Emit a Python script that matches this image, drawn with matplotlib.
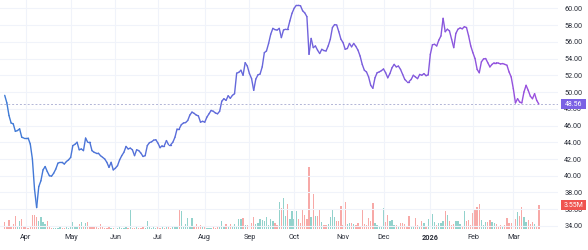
import numpy as np
import matplotlib
matplotlib.use("Agg")
import matplotlib.pyplot as plt
from matplotlib.collections import LineCollection
from matplotlib.colors import LinearSegmentedColormap
from matplotlib.patches import Rectangle
from matplotlib.transforms import blended_transform_factory

plt.rcParams["font.family"] = ["Roboto", "DejaVu Sans"]

# ---- data (one value per trading day, 2025-03-18 .. 2026-03-18) ----
close = [
    49.6, 48.7, 47.2, 46.3, 46.2, 45.3, 45.4, 45.6, 44.6, 44.5,
    44.5, 44.5, 43.8, 42.0, 38.4, 36.2, 38.7, 39.4, 40.7, 41.1,
    40.5, 40.0, 39.95, 40.3, 40.8, 41.5, 41.6, 41.6, 41.4, 41.7,
    41.9, 42.2, 43.6, 43.75, 44.0, 43.1, 43.2, 43.0, 44.5, 44.0,
    44.0, 43.0, 42.8, 42.7, 42.7, 42.4, 42.2, 42.0, 41.6, 41.0,
    41.6, 40.7, 40.9, 41.2, 41.9, 42.4, 42.8, 43.5, 43.2, 43.3,
    43.1, 42.4, 43.1, 43.0, 42.7, 42.3, 42.4, 43.6, 43.95, 44.05,
    44.25, 44.3, 43.9, 43.35, 43.6, 43.6, 44.2, 43.7, 43.7, 44.0,
    44.6, 45.6, 45.6, 46.1, 46.3, 46.35, 46.6, 47.25, 47.6, 47.45,
    47.25, 47.15, 46.4, 46.5, 46.4, 47.0, 47.4, 47.8, 47.7, 47.5,
    47.4, 47.7, 48.9, 49.2, 49.0, 49.55, 49.25, 49.6, 49.8, 52.25,
    52.35, 52.6, 52.0, 53.5, 53.1, 52.2, 51.6, 50.2, 51.55, 52.05,
    52.15, 53.0, 54.7, 54.9, 55.8, 56.9, 57.6, 57.45, 57.4, 57.6,
    56.5, 57.4, 57.5, 57.5, 58.5, 59.4, 60.0, 60.35, 60.35, 60.3,
    59.7, 59.45, 59.0, 54.5, 56.4, 55.3, 55.5, 55.0, 54.6, 55.1,
    54.95, 54.9, 55.5, 56.3, 57.7, 58.05, 58.0, 57.2, 56.3, 55.9,
    55.1, 55.2, 55.8, 55.4, 55.8, 55.45, 55.0, 54.3, 53.3, 52.6,
    52.4, 51.8, 50.8, 50.45, 51.7, 52.3, 52.4, 52.55, 52.75, 52.3,
    51.7, 52.2, 52.9, 53.3, 53.0, 53.1, 52.7, 52.1, 51.5, 51.25,
    51.25, 51.5, 52.0, 51.8, 51.6, 52.1, 52.0, 52.2, 51.95, 52.05,
    54.5, 55.65, 55.7, 55.5, 56.2, 56.7, 58.8, 57.2, 57.5, 57.3,
    56.3, 55.3, 57.0, 57.5, 57.65, 57.55, 57.8, 57.7, 56.7, 55.5,
    54.7, 54.0, 52.7, 52.3, 53.6, 53.95, 54.0, 53.5, 53.0, 53.3,
    53.5, 53.5, 53.45, 53.35, 53.4, 53.3, 53.2, 52.4, 51.8, 50.4,
    48.7, 49.2, 48.8, 48.7, 50.0, 50.8, 50.2, 49.5, 49.2, 49.8,
    49.0, 48.56,
]

volume_m = [
    0.99, 0.44, 1.38, 0.49, 0.74, 1.92, 0.49, 1.23, 1.48, 0.34,
    0.25, 0.22, 0.34, 2.07, 2.07, 1.73, 1.23, 1.73, 0.99, 0.74,
    1.23, 0.25, 0.22, 0.22, 0.22, 0.22, 0.30, 0.22, 0.22, 0.30,
    0.22, 0.30, 0.99, 0.30, 0.49, 0.74, 0.99, 0.44, 0.84, 1.08,
    0.49, 0.34, 0.30, 0.30, 0.22, 0.74, 0.30, 0.22, 0.22, 0.30,
    0.22, 0.22, 0.30, 0.22, 0.30, 0.22, 0.22, 0.30, 0.22, 2.96,
    0.22, 0.22, 0.30, 0.22, 0.22, 0.30, 0.22, 1.18, 0.44, 0.22,
    0.30, 0.22, 0.30, 0.22, 0.34, 0.22, 0.30, 0.34, 0.22, 0.30,
    0.30, 0.30, 2.81, 2.66, 0.30, 0.74, 1.58, 0.30, 1.58, 0.30,
    0.74, 0.30, 0.59, 0.30, 0.30, 0.22, 0.22, 0.22, 0.30, 0.22,
    0.30, 0.30, 1.18, 0.30, 0.74, 0.30, 0.74, 0.44, 0.74, 0.44,
    1.48, 1.48, 1.63, 0.59, 0.59, 2.66, 0.89, 1.78, 0.74, 0.89,
    1.48, 1.33, 1.18, 1.78, 0.59, 1.48, 1.18, 0.89, 0.59, 3.99,
    3.11, 4.59, 1.92, 3.70, 1.48, 2.66, 1.48, 2.66, 1.48, 0.89,
    2.96, 2.07, 1.48, 9.17, 1.78, 5.18, 1.92, 1.92, 2.81, 1.04,
    0.59, 0.59, 0.74, 1.78, 2.96, 1.78, 1.18, 1.18, 3.40, 0.59,
    3.99, 0.74, 0.89, 0.89, 0.74, 0.59, 0.89, 0.44, 2.96, 0.74,
    0.59, 1.63, 1.18, 3.85, 0.89, 0.59, 0.30, 0.44, 3.11, 1.04,
    2.07, 1.18, 1.33, 0.59, 0.59, 0.44, 0.89, 0.89, 0.74, 0.44,
    1.92, 0.30, 0.44, 1.63, 0.59, 0.44, 1.18, 0.89, 0.44, 1.48,
    2.96, 2.22, 1.04, 0.59, 0.89, 0.89, 1.18, 2.66, 2.07, 1.18,
    0.59, 0.74, 1.18, 1.18, 0.74, 0.44, 2.66, 1.18, 1.33, 0.59,
    2.37, 2.96, 3.25, 3.70, 1.33, 0.59, 1.04, 1.04, 1.33, 1.04,
    0.89, 0.74, 0.44, 0.59, 0.44, 0.59, 1.63, 0.89, 0.89, 0.89,
    1.48, 2.51, 1.92, 3.25, 1.78, 1.04, 1.33, 0.74, 1.04, 0.74,
    0.44, 3.55,
]

month_labels = ["Apr", "May", "Jun", "Jul", "Aug", "Sep", "Oct", "Nov",
                "Dec", "2026", "Feb", "Mar"]
month_first_bar = [10, 31, 52, 72, 94, 115, 136, 159, 178, 200, 220, 239]
price_ticks = [34, 36, 38, 40, 42, 44, 46, 48, 50, 52, 54, 56, 58, 60]
last_price_label = "48.56"
last_volume_label = "3.55M"

# ---- figure ----
W, H = 588, 250
fig = plt.figure(figsize=(W / 100, H / 100), dpi=100)
fig.patch.set_facecolor("white")
rect = [0, 21 / H, 558 / W, 229 / H]

axv = fig.add_axes(rect)
ax = fig.add_axes(rect, sharex=axv)
ax.set_zorder(2)
ax.patch.set_visible(False)

x = np.arange(len(close))
c = np.array(close)
v = np.array(volume_m)

ax.set_xlim(-2.22, 260.0)
ax.set_ylim(33.64, 60.99)
axv.set_ylim(0, 33.9)

# grid
for yv in price_ticks:
    ax.axhline(yv, color="#f0f3fa", lw=0.8, zorder=0)
for xv in month_first_bar:
    ax.axvline(xv, color="#f0f3fa", lw=0.8, zorder=0)

# volume
up = np.r_[False, np.diff(c) > 0]
vcols = np.where(up, "#92d2cc", "#f7a9a7")
axv.bar(x, v, width=0.62, color=vcols, linewidth=0, zorder=1)
axv.axis("off")

# gradient price line
pts = np.column_stack([x, c]).reshape(-1, 1, 2)
segs = np.concatenate([pts[:-1], pts[1:]], axis=1)
cmap = LinearSegmentedColormap.from_list("bp", ["#3f7bd6", "#6a66dc", "#9a4fde"])
lc = LineCollection(segs, cmap=cmap, linewidth=1.0, zorder=3,
                    capstyle="round", joinstyle="round")
lc.set_array((x[:-1] + x[1:]) / 2)
lc.set_clim(0, len(x) - 1)
ax.add_collection(lc)

# last price dotted line
ax.axhline(c[-1], color="#b2b5d6", lw=0.7, ls=(0, (2, 2)), zorder=2)

# axes styling
for a in (ax, axv):
    for s in a.spines.values():
        s.set_visible(False)
ax.yaxis.tick_right()
ax.set_yticks(price_ticks)
ax.set_yticklabels([f"{t:.2f}" for t in price_ticks])
ax.tick_params(axis="y", length=0, pad=4.5, labelsize=5.2, labelcolor="#2a2e39")
ax.set_xticks(month_first_bar)
ax.set_xticklabels(month_labels)
ax.tick_params(axis="x", length=0, pad=3.5, labelsize=5.2, labelcolor="#2a2e39")
for lab in ax.get_xticklabels():
    if lab.get_text().isdigit():
        lab.set_fontweight("bold")
for lab in ax.get_yticklabels():
    lab.set_horizontalalignment("left")

# price label box
bt = blended_transform_factory(ax.transAxes, ax.transData)
bx0 = 561 / 558
bw = 25 / 558
ax.add_patch(Rectangle((bx0, c[-1] - 0.6), bw, 1.2, transform=bt,
                       facecolor="#7b61e4", edgecolor="none", clip_on=False, zorder=5))
ax.text(bx0 + bw / 2, c[-1], last_price_label, transform=bt, ha="center",
        va="center", color="white", fontsize=5.0, zorder=6, clip_on=False)

btv = blended_transform_factory(axv.transAxes, axv.transData)
ax.add_patch(Rectangle((bx0, v[-1] - 0.72), bw, 1.44, transform=btv,
                       facecolor="#ef5350", edgecolor="none", clip_on=False, zorder=5))
ax.text(bx0 + bw / 2, v[-1], last_volume_label, transform=btv, ha="center",
        va="center", color="white", fontsize=5.0, zorder=6, clip_on=False)

fig.savefig("out.png", dpi=100, facecolor="white")
